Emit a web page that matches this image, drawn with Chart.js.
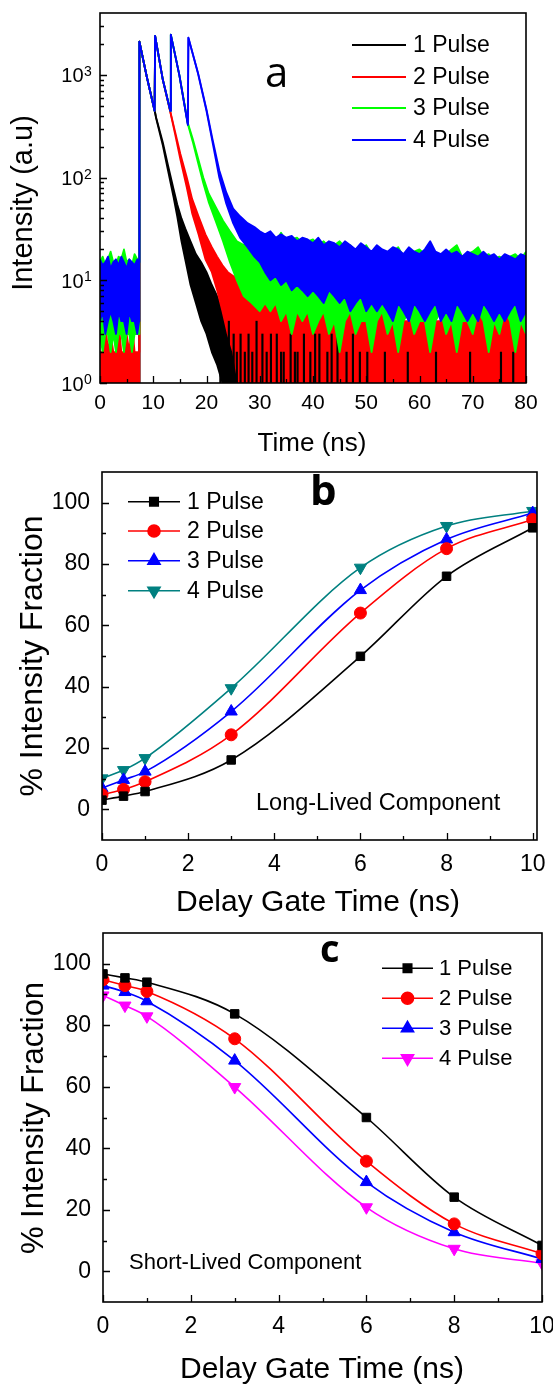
<!DOCTYPE html>
<html>
<head>
<meta charset="utf-8">
<script src="https://cdn.jsdelivr.net/npm/chart.js@4.4.1/dist/chart.umd.min.js"></script>
<style>
  html, body { margin: 0; padding: 0; background: #fff; }
  #wrap { position: relative; width: 553px; height: 1384px; overflow: hidden; }
  canvas { position: absolute; left: 0; }
</style>
</head>
<body>
<div id="wrap">
  <canvas id="chartA" width="553" height="460" style="top:0px"></canvas>
  <canvas id="chartB" width="553" height="460" style="top:460px"></canvas>
  <canvas id="chartC" width="553" height="464" style="top:920px"></canvas>
</div>
<script>
// ---- panel a: fluorescence decays (time in ns, counts), read as upper/lower envelopes ----
const pulseLabels = ['1 Pulse', '2 Pulse', '3 Pulse', '4 Pulse'];

const tBlack  = [0, 7.35, 7.4, 8.8, 10.3, 10.5, 11.8, 12.8, 13.8, 14.5, 15.3, 16, 17, 18, 19, 20, 21, 22, 23, 24, 25, 26, 80];
const hiBlack = [1, 1, 2100, 950, 445, 392, 220, 130, 78, 55, 40, 32, 24, 18, 15, 12, 9, 7, 5, 4, 3, 1, 1];
const loBlack = [1, 1, 2100, 950, 440, 385, 205, 115, 65, 42, 24, 16, 9, 6, 4, 3, 2, 1.5, 1, 1, 1, 1, 1];
// isolated black counts sticking out of the noise floor
const tBlackSpikes  = [22.6, 23.4, 24.2, 25.1, 25.7, 26.4, 27.2, 27.9, 28.6, 29.4, 30.5, 31.3, 32.1, 33.2, 34.0, 34.5, 35.8, 36.6, 37.1, 38.3, 39.5, 40.4, 41.2, 42.7, 43.5, 44.6, 46.3, 47.5, 48.8, 50.2, 53.5, 57.8, 63.1, 69.5, 75.3, 77.6];
const hiBlackSpikes = [4, 3, 4, 3, 2, 3, 2, 3, 2, 4, 3, 2, 3, 3, 2, 2, 3, 2, 2, 3, 2, 3, 3, 2, 3, 3, 2, 3, 2, 2, 2, 2, 2, 2, 2, 2];

const tRed = [0, 0.5, 1, 1.5, 2, 2.5, 3, 3.5, 4, 4.5, 5, 5.5, 6, 6.5, 7,
  7.35, 7.4, 8.8, 10.25, 10.35, 11.8, 13.2, 14.1, 15.1, 16.3, 17.3, 18.5, 19.8, 21, 22, 23, 24,
  25, 26, 27, 28, 29, 30, 31, 32, 33, 34, 35, 36, 37, 38, 39, 40, 41, 42, 43, 44, 45, 46, 47, 48, 49, 50,
  51, 52, 53, 54, 55, 56, 57, 58, 59, 60, 61, 62, 63, 64, 65, 66, 67, 68, 69, 70, 71, 72, 73, 74, 75, 76, 77, 78, 79, 80];
const hiRed = [2, 2, 4, 2, 3, 2, 2, 4, 2, 2, 3, 2, 4, 2, 2,
  2, 2100, 950, 450, 2390, 900, 440, 280, 170, 100, 62, 42, 28, 21, 17, 14, 12,
  11, 10, 8.5, 8, 7, 8, 6, 7, 6, 5, 6, 5, 6, 5, 5, 6, 4, 5, 6, 4, 5, 4, 5, 6, 4, 5,
  4, 4, 5, 4, 4, 5, 4, 4, 5, 4, 4, 5, 4, 4, 5, 4, 4, 4, 5, 4, 4, 5, 4, 4, 4, 5, 4, 4, 5, 4];
const loRed = [1, 1, 1, 1, 1, 1, 1, 1, 1, 1, 1, 1, 1, 1, 1,
  1, 2100, 950, 445, 2390, 890, 435, 265, 150, 80, 45, 28, 16, 12, 8, 5, 3,
  2, 1, 1, 1, 1, 1, 1, 1, 1, 1, 1, 1, 1, 1, 1, 1, 1, 1, 1, 1, 1, 1, 1, 1, 1, 1,
  1, 1, 1, 1, 1, 1, 1, 1, 1, 1, 1, 1, 1, 1, 1, 1, 1, 1, 1, 1, 1, 1, 1, 1, 1, 1, 1, 1, 1, 1];

const tGreen = [0, 0.5, 1, 1.5, 2, 2.5, 3, 3.5, 4, 4.5, 5, 5.5, 6, 6.5, 7,
  7.35, 7.4, 8.8, 10.25, 10.35, 11.8, 13.2, 13.3, 14.9, 16.5, 17.4, 18.4, 19.4, 20.4, 21.7, 23.1, 24.4, 25.7, 27, 28.5, 30,
  31, 32, 33, 34, 35, 36, 37, 38, 39, 40, 41, 42, 43, 44, 45, 46, 47, 48, 49, 50,
  51, 52, 53, 54, 55, 56, 57, 58, 59, 60, 61, 62, 63, 64, 65, 66, 67, 68, 69, 70, 71, 72, 73, 74, 75, 76, 77, 78, 79, 80];
const hiGreen = [15, 17, 14, 16, 19, 15, 14, 17, 16, 20, 15, 16, 14, 18, 16,
  15, 2100, 950, 450, 2390, 900, 450, 2460, 1000, 340, 240, 155, 100, 70, 52, 38, 30, 24, 22, 26, 22,
  25, 27, 24, 29, 24, 25, 26, 23, 24, 25, 22, 24, 21, 22, 24, 21, 22, 19, 20, 22,
  18, 20, 19, 18, 19, 21, 17, 18, 19, 20, 18, 19, 17, 18, 18, 20, 22, 17, 18, 19, 21, 17, 18, 16, 17, 16, 17, 18, 16, 19];
const loGreen = [3, 2, 3, 3, 2, 3, 2, 3, 3, 2, 3, 3, 2, 3, 3,
  3, 2100, 950, 445, 2390, 890, 445, 2460, 990, 330, 225, 140, 88, 58, 38, 24, 15, 10, 7, 6, 5,
  6, 5, 6, 4, 5, 3, 5, 4, 5, 3, 4, 5, 3, 4, 2, 4, 5, 3, 4, 4,
  2, 4, 5, 3, 4, 2, 4, 5, 3, 4, 4, 2, 4, 5, 3, 4, 2, 4, 4, 3, 5, 4, 2, 4, 3, 5, 4, 2, 4, 3];

const tBlue = [0, 0.5, 1, 1.5, 2, 2.5, 3, 3.5, 4, 4.5, 5, 5.5, 6, 6.5, 7,
  7.35, 7.4, 8.8, 10.25, 10.35, 11.8, 13.2, 13.3, 14.9, 16.5, 16.6, 18.4, 20, 21.1, 22.4, 23.7, 25, 26.3, 27.7, 29, 30,
  31, 32, 33, 34, 35, 36, 37, 38, 39, 40, 41, 42, 43, 44, 45, 46, 47, 48, 49, 50,
  51, 52, 53, 54, 55, 56, 57, 58, 59, 60, 61, 62, 63, 64, 65, 66, 67, 68, 69, 70, 71, 72, 73, 74, 75, 76, 77, 78, 79, 80];
const hiBlue = [16, 14, 15, 17, 13, 15, 16, 14, 17, 15, 13, 16, 15, 14, 16,
  15, 2100, 950, 450, 2390, 900, 450, 2460, 1000, 330, 2300, 1050, 460, 240, 118, 72, 50, 42, 36, 33, 30,
  28, 30, 26, 28, 26, 27, 24, 26, 25, 23, 26, 22, 24, 23, 21, 24, 22, 20, 23, 21,
  19, 22, 20, 19, 21, 20, 18, 21, 19, 18, 20, 24, 19, 18, 20, 18, 19, 17, 19, 18, 17, 19, 17, 18, 16, 18, 17, 16, 18, 17];
const loBlue = [4, 5, 3, 4, 5, 4, 3, 5, 4, 4, 3, 5, 4, 4, 3,
  4, 2100, 950, 445, 2390, 890, 445, 2460, 990, 325, 2300, 1030, 445, 225, 100, 56, 36, 26, 21, 17, 15,
  12, 10, 11, 9, 10, 8, 9, 8, 7, 8, 7, 6, 8, 7, 6, 7, 5, 6, 7, 5,
  6, 5, 6, 5, 4, 6, 5, 4, 6, 5, 4, 5, 6, 4, 5, 4, 6, 5, 4, 5, 4, 6, 5, 4, 5, 4, 5, 6, 4, 5];

// ---- panels b and c: % intensity fraction vs delay gate time ----
const delayTimes = [0, 0.5, 1, 3, 6, 8, 10];
const longP1 = [3, 4.3, 5.8, 16.1, 49.9, 76, 91.8];
const longP2 = [4.8, 6.5, 9, 24.3, 64, 85, 94.5];
const longP3 = [6.9, 9.6, 12.3, 31.9, 71.5, 88, 96.6];
const longP4 = [10.1, 12.8, 16.7, 39.5, 78.8, 92.4, 97.3];

const shortP1 = [96.7, 95.4, 94, 83.7, 50, 24.1, 8.4];
const shortP2 = [94.8, 92.9, 91, 75.6, 35.8, 15.4, 5.7];
const shortP3 = [92.9, 90.8, 87.8, 68.5, 29, 12.7, 4];
const shortP4 = [89.7, 86.4, 82.9, 59.9, 20.8, 7.3, 2.6];

// ---- styles ----
const FONT = "'Liberation Sans', Arial, Helvetica, sans-serif";
const LETTER_FONT = "'Open Sans', 'Noto Sans', sans-serif";
const decayColors = ['#000000', '#ff0000', '#00ff00', '#0000ff'];
const longColors = ['#000000', '#ff0000', '#0000ff', '#008080'];
const shortColors = ['#000000', '#ff0000', '#0000ff', '#ff00ff'];
const markerStyles = [
  { pointStyle: 'rect', rotation: 0, radius: 6 },
  { pointStyle: 'circle', rotation: 0, radius: 6 },
  { pointStyle: 'triangle', rotation: 0, radius: 7 },
  { pointStyle: 'triangle', rotation: 180, radius: 7 }
];

function pts(xs, ys) {
  return xs.map((x, i) => ({ x: x, y: ys[i] }));
}

// upper envelope filled down to the lower envelope
function bandSets(color, t, hi, lo) {
  const common = { borderColor: color, backgroundColor: color, borderWidth: 1.8, borderJoinStyle: 'round', pointRadius: 0, tension: 0 };
  return [
    { ...common, data: pts(t, hi), fill: '+1' },
    { ...common, data: pts(t, lo), fill: false }
  ];
}

function fitSet(ys, color, marker) {
  return {
    data: pts(delayTimes, ys),
    borderColor: color,
    backgroundColor: color,
    borderWidth: 1.6,
    pointStyle: marker.pointStyle,
    rotation: marker.rotation,
    pointRadius: marker.radius,
    pointBorderWidth: 1,
    cubicInterpolationMode: 'monotone',
    fill: false
  };
}

// box round the plot plus inward tick marks
function frameAndTicks(t) {
  return {
    id: 'frameAndTicks',
    afterDraw(chart) {
      const { ctx, chartArea: a } = chart;
      const sx = chart.scales.x, sy = chart.scales.y;
      ctx.save();
      ctx.strokeStyle = '#000';
      ctx.lineWidth = 1.3;
      ctx.beginPath();
      const markX = (vals, len) => vals.forEach(v => {
        const x = Math.round(sx.getPixelForValue(v)) + 0.5;
        ctx.moveTo(x, a.bottom); ctx.lineTo(x, a.bottom - len);
      });
      const markY = (vals, len) => vals.forEach(v => {
        const y = Math.round(sy.getPixelForValue(v)) + 0.5;
        ctx.moveTo(a.left, y); ctx.lineTo(a.left + len, y);
      });
      markX(t.xMajor, 7); markX(t.xMinor, 4);
      markY(t.yMajor, 7); markY(t.yMinor, 4);
      ctx.stroke();
      ctx.lineWidth = 1.6;
      ctx.strokeRect(a.left, a.top, a.right - a.left, a.bottom - a.top);
      ctx.restore();
    }
  };
}

// axis titles, panel letter, notes and legend
function annotations(o) {
  return {
    id: 'annotations',
    afterDraw(chart) {
      const ctx = chart.ctx;
      ctx.save();
      ctx.fillStyle = '#000';
      ctx.textBaseline = 'alphabetic';

      ctx.font = o.xTitle.font;
      ctx.textAlign = 'center';
      ctx.fillText(o.xTitle.text, o.xTitle.x, o.xTitle.y);

      ctx.save();
      ctx.translate(o.yTitle.x, o.yTitle.y);
      ctx.rotate(-Math.PI / 2);
      ctx.font = o.yTitle.font;
      ctx.textAlign = 'center';
      ctx.fillText(o.yTitle.text, 0, 0);
      ctx.restore();

      (o.texts || []).forEach(t => {
        ctx.font = t.font;
        ctx.textAlign = 'left';
        ctx.fillText(t.text, t.x, t.y);
      });

      const lg = o.legend;
      lg.rows.forEach((y, i) => {
        ctx.strokeStyle = lg.colors[i];
        ctx.fillStyle = lg.colors[i];
        ctx.lineWidth = lg.lineWidth;
        ctx.beginPath();
        ctx.moveTo(lg.x1, y); ctx.lineTo(lg.x2, y);
        ctx.stroke();
        if (lg.markers) {
          const m = lg.markers[i];
          Chart.helpers.drawPoint(ctx, { pointStyle: m.pointStyle, rotation: m.rotation, radius: m.radius, borderWidth: 1 }, (lg.x1 + lg.x2) / 2, y);
        }
        ctx.fillStyle = '#000';
        ctx.font = lg.font;
        ctx.textAlign = 'left';
        ctx.textBaseline = 'middle';
        ctx.fillText(lg.labels[i], lg.tx, y + 1);
        ctx.textBaseline = 'alphabetic';
      });

      // 10^n labels of the log axis
      if (o.logLabels) {
        const sy = chart.scales.y;
        o.logLabels.forEach(exp => {
          const y = sy.getPixelForValue(Math.pow(10, exp));
          ctx.fillStyle = '#000';
          ctx.font = '20px ' + FONT;
          ctx.textAlign = 'right';
          ctx.fillText('10', 83.5, y + 7.5);
          ctx.font = '14px ' + FONT;
          ctx.textAlign = 'left';
          ctx.fillText(String(exp), 84, y + 1);
        });
      }
      ctx.restore();
    }
  };
}

const baseOpts = {
  responsive: false,
  animation: false,
  events: [],
  plugins: { legend: { display: false }, tooltip: { enabled: false } }
};

// ----- panel a -----
const ticksA = {
  xMajor: [0, 10, 20, 30, 40, 50, 60, 70, 80],
  xMinor: [5, 15, 25, 35, 45, 55, 65, 75],
  yMajor: [1, 10, 100, 1000],
  yMinor: []
};
[1, 10, 100, 1000].forEach(d => [2, 3, 4, 5, 6, 7, 8, 9].forEach(k => { if (d * k < 4000) ticksA.yMinor.push(d * k); }));

const spikeSet = {
  type: 'bar',
  data: tBlackSpikes.map((x, i) => ({ x: x, y: [1, hiBlackSpikes[i]] })),
  backgroundColor: '#000',
  borderWidth: 0,
  barThickness: 1.5,
  grouped: false
};

new Chart(document.getElementById('chartA'), {
  type: 'line',
  data: {
    datasets: [
      ...bandSets(decayColors[3], tBlue, hiBlue, loBlue),
      ...bandSets(decayColors[2], tGreen, hiGreen, loGreen),
      spikeSet,
      ...bandSets(decayColors[1], tRed, hiRed, loRed),
      ...bandSets(decayColors[0], tBlack, hiBlack, loBlack)
    ]
  },
  options: {
    ...baseOpts,
    layout: { padding: { left: 0, right: 27, top: 13, bottom: 0 } },
    scales: {
      x: {
        type: 'linear', min: 0, max: 80, offset: false,
        grid: { display: false, drawTicks: false, offset: false },
        border: { display: false },
        ticks: { stepSize: 10, padding: 8, color: '#000', maxRotation: 0, autoSkip: false, font: { family: FONT, size: 21 } },
        afterFit: s => { s.height = 77; s.paddingLeft = 0; s.paddingRight = 0; }
      },
      y: {
        type: 'logarithmic', min: 1, max: 4000,
        grid: { display: false, drawTicks: false },
        border: { display: false },
        ticks: { display: false },
        afterFit: s => { s.width = 100; s.paddingTop = 0; s.paddingBottom = 0; }
      }
    }
  },
  plugins: [
    frameAndTicks(ticksA),
    annotations({
      xTitle: { text: 'Time (ns)', font: '26px ' + FONT, x: 312, y: 451 },
      yTitle: { text: 'Intensity (a.u)', font: '29px ' + FONT, x: 32, y: 203 },
      texts: [{ text: 'a', font: '42px ' + LETTER_FONT, x: 265, y: 87 }],
      logLabels: [0, 1, 2, 3],
      legend: {
        labels: pulseLabels, colors: decayColors, rows: [45, 77, 108, 140],
        x1: 352, x2: 406, tx: 413, lineWidth: 2, font: '23px ' + FONT
      }
    })
  ]
});

// ----- panels b and c share the same axes -----
const ticksBC = {
  xMajor: [0, 2, 4, 6, 8, 10],
  xMinor: [1, 3, 5, 7, 9],
  yMajor: [0, 20, 40, 60, 80, 100],
  yMinor: [10, 30, 50, 70, 90]
};

function fractionScales(xMax, yWidth, xHeight) {
  return {
    x: {
      type: 'linear', min: 0, max: xMax, offset: false,
      grid: { display: false, drawTicks: false },
      border: { display: false },
      ticks: { padding: 11, color: '#000', maxRotation: 0, font: { family: FONT, size: 23 } },
      afterBuildTicks: s => { s.ticks = ticksBC.xMajor.map(v => ({ value: v })); },
      afterFit: s => { s.height = xHeight; s.paddingLeft = 0; s.paddingRight = 0; }
    },
    y: {
      type: 'linear', min: -10, max: 110,
      grid: { display: false, drawTicks: false },
      border: { display: false },
      ticks: { padding: 12, color: '#000', font: { family: FONT, size: 23 } },
      afterBuildTicks: s => { s.ticks = ticksBC.yMajor.map(v => ({ value: v })); },
      afterFit: s => { s.width = yWidth; s.paddingTop = 0; s.paddingBottom = 0; }
    }
  };
}

// ----- panel b -----
new Chart(document.getElementById('chartB'), {
  type: 'line',
  data: {
    datasets: [longP1, longP2, longP3, longP4].map((ys, i) => fitSet(ys, longColors[i], markerStyles[i]))
  },
  options: {
    ...baseOpts,
    layout: { padding: { left: 0, right: 16, top: 12, bottom: 0 } },
    scales: fractionScales(10.1, 102, 80)
  },
  plugins: [
    frameAndTicks(ticksBC),
    annotations({
      xTitle: { text: 'Delay Gate Time (ns)', font: '30px ' + FONT, x: 318, y: 451 },
      yTitle: { text: '% Intensity Fraction', font: '32px ' + FONT, x: 42, y: 196 },
      texts: [
        { text: 'b', font: 'bold 42px ' + LETTER_FONT, x: 310, y: 45 },
        { text: 'Long-Lived Component', font: '23.5px ' + FONT, x: 256, y: 350 }
      ],
      legend: {
        labels: pulseLabels, colors: longColors, markers: markerStyles, rows: [41.7, 71, 100.7, 130.7],
        x1: 128, x2: 180, tx: 187, lineWidth: 1.6, font: '23px ' + FONT
      }
    })
  ]
});

// ----- panel c -----
new Chart(document.getElementById('chartC'), {
  type: 'line',
  data: {
    datasets: [shortP1, shortP2, shortP3, shortP4].map((ys, i) => fitSet(ys, shortColors[i], markerStyles[i]))
  },
  options: {
    ...baseOpts,
    layout: { padding: { left: 0, right: 11, top: 13, bottom: 0 } },
    scales: fractionScales(10, 103, 82)
  },
  plugins: [
    frameAndTicks(ticksBC),
    annotations({
      xTitle: { text: 'Delay Gate Time (ns)', font: '30px ' + FONT, x: 322, y: 458 },
      yTitle: { text: '% Intensity Fraction', font: '31px ' + FONT, x: 43, y: 198 },
      texts: [
        { text: 'c', font: 'bold 38px ' + LETTER_FONT, x: 320, y: 42 },
        { text: 'Short-Lived Component', font: '22px ' + FONT, x: 129, y: 349 }
      ],
      legend: {
        labels: pulseLabels, colors: shortColors, markers: markerStyles, rows: [48.3, 78.3, 108.3, 138.3],
        x1: 382, x2: 433, tx: 439, lineWidth: 1.6, font: '22px ' + FONT
      }
    })
  ]
});
</script>
</body>
</html>
